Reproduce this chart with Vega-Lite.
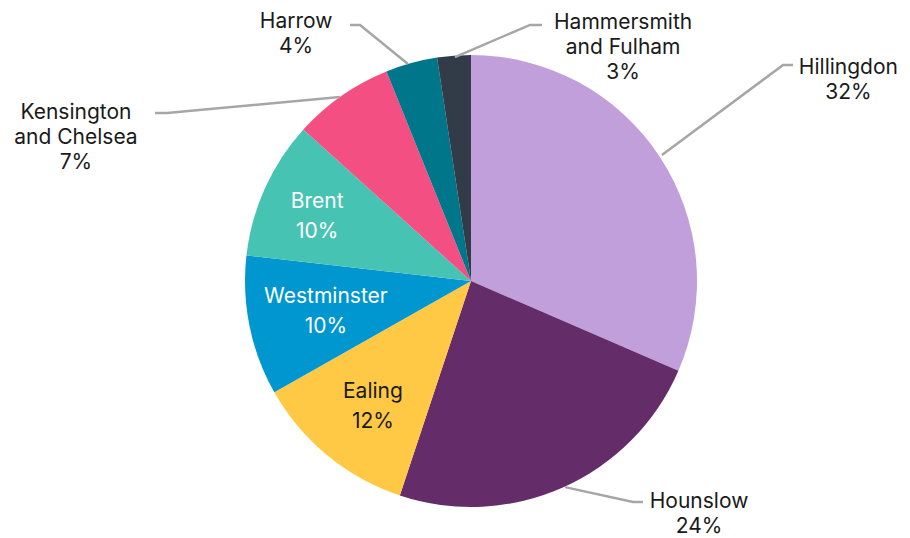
{
  "$schema": "https://vega.github.io/schema/vega-lite/v6.json",
  "autosize": {"type": "none"},
  "width": 878,
  "height": 514,
  "padding": {"left": 32, "top": 24, "right": 0, "bottom": 0},
  "background": "white",
  "config": {"view": {"stroke": null}},
  "datasets": {
    "slices": [
      {"idx": 1, "name": "Hillingdon", "share": 31.5},
      {"idx": 2, "name": "Hounslow", "share": 23.6},
      {"idx": 3, "name": "Ealing", "share": 11.7},
      {"idx": 4, "name": "Westminster", "share": 10.0},
      {"idx": 5, "name": "Brent", "share": 9.9},
      {"idx": 6, "name": "Kensington and Chelsea", "share": 7.2},
      {"idx": 7, "name": "Harrow", "share": 3.7},
      {"idx": 8, "name": "Hammersmith and Fulham", "share": 2.4}
    ],
    "leaders": [
      {"name": "Harrow", "seq": 1, "u": -0.535, "v": 1.133},
      {"name": "Harrow", "seq": 2, "u": -0.491, "v": 1.133},
      {"name": "Harrow", "seq": 3, "u": -0.279, "v": 0.96},
      {"name": "Hammersmith and Fulham", "seq": 1, "u": -0.071, "v": 0.991},
      {"name": "Hammersmith and Fulham", "seq": 2, "u": 0.261, "v": 1.133},
      {"name": "Hammersmith and Fulham", "seq": 3, "u": 0.314, "v": 1.133},
      {"name": "Hillingdon", "seq": 1, "u": 0.845, "v": 0.558},
      {"name": "Hillingdon", "seq": 2, "u": 1.381, "v": 0.956},
      {"name": "Hillingdon", "seq": 3, "u": 1.425, "v": 0.956},
      {"name": "Kensington and Chelsea", "seq": 1, "u": -1.398, "v": 0.743},
      {"name": "Kensington and Chelsea", "seq": 2, "u": -1.345, "v": 0.743},
      {"name": "Kensington and Chelsea", "seq": 3, "u": -0.58, "v": 0.814},
      {"name": "Hounslow", "seq": 1, "u": 0.416, "v": -0.912},
      {"name": "Hounslow", "seq": 2, "u": 0.717, "v": -0.978},
      {"name": "Hounslow", "seq": 3, "u": 0.761, "v": -0.978}
    ],
    "labels": [
      {"name": "Harrow", "label": "Harrow\n4%", "u": -0.774, "v": 1.146},
      {"name": "Hammersmith and Fulham", "label": "Hammersmith\nand Fulham\n3%", "u": 0.673, "v": 1.142},
      {"name": "Hillingdon", "label": "Hillingdon\n32%", "u": 1.67, "v": 0.942},
      {"name": "Kensington and Chelsea", "label": "Kensington\nand Chelsea\n7%", "u": -1.748, "v": 0.743},
      {"name": "Hounslow", "label": "Hounslow\n24%", "u": 1.009, "v": -0.978},
      {"name": "Brent", "label": "Brent\n10%", "u": -0.681, "v": 0.35},
      {"name": "Westminster", "label": "Westminster\n10%", "u": -0.642, "v": -0.071},
      {"name": "Ealing", "label": "Ealing\n12%", "u": -0.434, "v": -0.491}
    ]
  },
  "layer": [
    {
      "data": {"name": "slices"},
      "mark": {"type": "arc", "outerRadius": 226},
      "encoding": {
        "theta": {"field": "share", "type": "quantitative", "stack": true},
        "order": {"field": "idx", "type": "quantitative"},
        "color": {
          "field": "name",
          "type": "nominal",
          "legend": null,
          "scale": {
            "domain": ["Hillingdon", "Hounslow", "Ealing", "Westminster", "Brent", "Kensington and Chelsea", "Harrow", "Hammersmith and Fulham"],
            "range": ["#C09FDB", "#642C69", "#FFC845", "#0096D0", "#47C3B3", "#F34F82", "#00768A", "#313C48"]
          }
        }
      }
    },
    {
      "data": {"name": "leaders"},
      "mark": {"type": "line", "color": "#A6A6A6", "strokeWidth": 2.5},
      "encoding": {
        "x": {"field": "u", "type": "quantitative", "axis": null, "scale": {"domain": [-1.9425, 1.9425], "zero": false, "nice": false}},
        "y": {"field": "v", "type": "quantitative", "axis": null, "scale": {"domain": [-1.1372, 1.1372], "zero": false, "nice": false}},
        "detail": {"field": "name", "type": "nominal"},
        "order": {"field": "seq", "type": "quantitative"}
      }
    },
    {
      "data": {"name": "labels"},
      "transform": [{"filter": {"not": {"field": "name", "oneOf": ["Brent", "Westminster", "Ealing"]}}}],
      "mark": {"type": "text", "font": "Inter", "fontSize": 21, "lineBreak": "\n", "lineHeight": 25, "align": "center", "baseline": "middle", "color": "#1A1A1A"},
      "encoding": {
        "x": {"field": "u", "type": "quantitative", "axis": null, "scale": {"domain": [-1.9425, 1.9425], "zero": false, "nice": false}},
        "y": {"field": "v", "type": "quantitative", "axis": null, "scale": {"domain": [-1.1372, 1.1372], "zero": false, "nice": false}},
        "text": {"field": "label"}
      }
    },
    {
      "data": {"name": "labels"},
      "transform": [{"filter": {"field": "name", "oneOf": ["Brent", "Westminster", "Ealing"]}}],
      "mark": {"type": "text", "font": "Inter", "fontSize": 21, "lineBreak": "\n", "lineHeight": 30, "align": "center", "baseline": "middle"},
      "encoding": {
        "x": {"field": "u", "type": "quantitative", "axis": null, "scale": {"domain": [-1.9425, 1.9425], "zero": false, "nice": false}},
        "y": {"field": "v", "type": "quantitative", "axis": null, "scale": {"domain": [-1.1372, 1.1372], "zero": false, "nice": false}},
        "text": {"field": "label"},
        "color": {
          "condition": {"test": "datum.name === 'Brent' || datum.name === 'Westminster'", "value": "#FFFFFF"},
          "value": "#1A1A1A"
        }
      }
    }
  ]
}
